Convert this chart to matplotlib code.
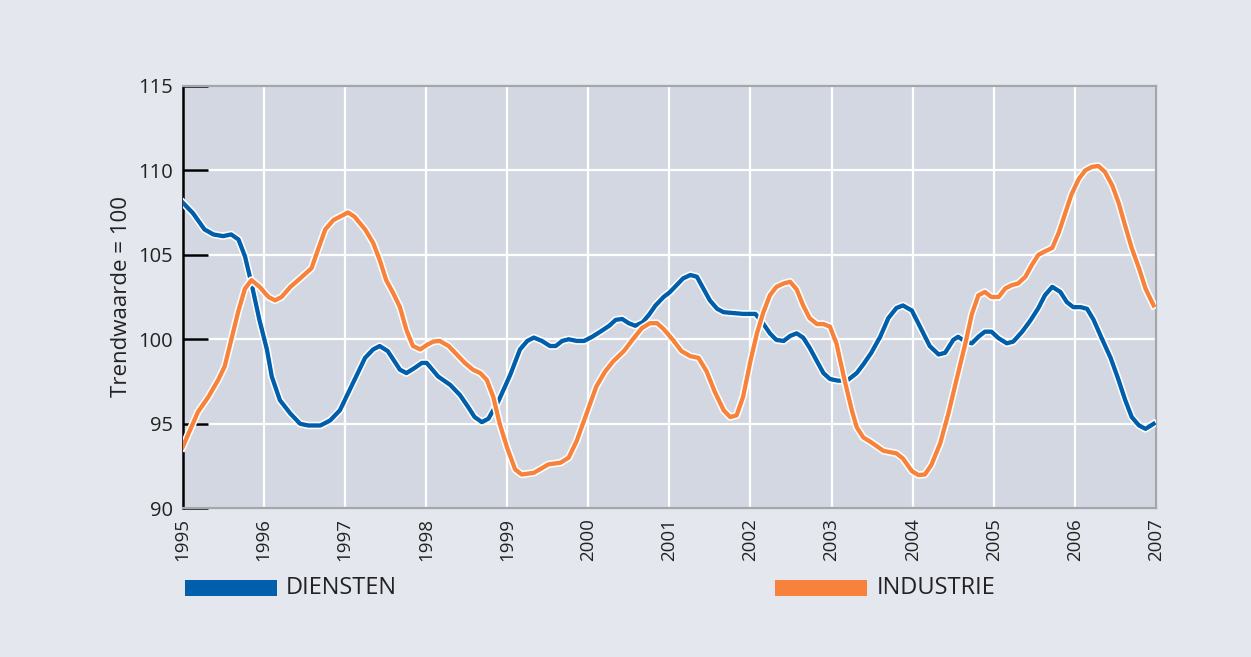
import matplotlib
matplotlib.use("Agg")
import matplotlib.pyplot as plt
import matplotlib.patheffects as pe
from matplotlib.patches import Rectangle

# Waarden (jaar als decimaal, index trendwaarde = 100)
diensten_t = [1995.00, 1995.13, 1995.27, 1995.38, 1995.50, 1995.60, 1995.69, 1995.77, 1995.85, 1995.95,
              1996.04, 1996.10, 1996.20, 1996.33, 1996.45, 1996.55, 1996.70, 1996.82, 1996.94, 1997.08,
              1997.25, 1997.35, 1997.43, 1997.53, 1997.68, 1997.76, 1997.86, 1997.95, 1998.01, 1998.15,
              1998.30, 1998.42, 1998.52, 1998.60, 1998.69, 1998.77, 1998.89, 1999.04, 1999.16, 1999.25,
              1999.33, 1999.43, 1999.53, 1999.60, 1999.68, 1999.76, 1999.86, 1999.95, 2000.05, 2000.15,
              2000.26, 2000.34, 2000.42, 2000.50, 2000.58, 2000.67, 2000.75, 2000.83, 2000.93, 2001.01,
              2001.09, 2001.17, 2001.26, 2001.34, 2001.42, 2001.50, 2001.59, 2001.67, 2001.79, 2001.91,
              2002.06, 2002.14, 2002.24, 2002.32, 2002.41, 2002.49, 2002.57, 2002.65, 2002.73, 2002.82,
              2002.90, 2002.98, 2003.08, 2003.19, 2003.31, 2003.39, 2003.49, 2003.60, 2003.70, 2003.80,
              2003.88, 2003.99, 2004.09, 2004.21, 2004.32, 2004.40, 2004.50, 2004.56, 2004.65, 2004.73,
              2004.81, 2004.89, 2004.97, 2005.06, 2005.16, 2005.24, 2005.35, 2005.45, 2005.55, 2005.63,
              2005.72, 2005.82, 2005.90, 2005.98, 2006.07, 2006.15, 2006.23, 2006.33, 2006.44, 2006.53,
              2006.62, 2006.70, 2006.79, 2006.87, 2006.97]
diensten = [108.1, 107.45, 106.5, 106.2, 106.1, 106.2, 105.9, 104.9, 103.3, 101.1,
            99.4, 97.8, 96.4, 95.6, 95.0, 94.9, 94.9, 95.2, 95.8, 97.2,
            98.9, 99.4, 99.6, 99.3, 98.2, 98.0, 98.3, 98.6, 98.6, 97.8,
            97.3, 96.7, 96.0, 95.4, 95.1, 95.3, 96.3, 97.9, 99.4, 99.9,
            100.1, 99.9, 99.6, 99.6, 99.9, 100.0, 99.9, 99.9, 100.15, 100.45,
            100.8, 101.15, 101.2, 100.95, 100.8, 101.0, 101.45, 102.0, 102.5, 102.8,
            103.2, 103.6, 103.8, 103.7, 103.0, 102.3, 101.8, 101.6, 101.55, 101.5,
            101.5, 101.05, 100.35, 99.96, 99.9, 100.2, 100.35, 100.1, 99.5, 98.7,
            98.0, 97.65, 97.55, 97.55, 98.0, 98.5, 99.2, 100.15, 101.25, 101.85,
            102.0, 101.7, 100.75, 99.6, 99.1, 99.2, 99.96, 100.15, 99.86, 99.76,
            100.15, 100.45, 100.45, 100.06, 99.76, 99.86, 100.45, 101.1, 101.85, 102.6,
            103.1, 102.8, 102.2, 101.9, 101.9, 101.8, 101.15, 100.06, 98.9, 97.7,
            96.4, 95.4, 94.9, 94.7, 95.0]

industrie_t = [1995.00, 1995.09, 1995.19, 1995.32, 1995.44, 1995.52, 1995.60, 1995.69, 1995.77, 1995.85,
               1995.95, 1996.06, 1996.14, 1996.22, 1996.33, 1996.45, 1996.59, 1996.67, 1996.76, 1996.86,
               1996.94, 1997.04, 1997.12, 1997.25, 1997.35, 1997.43, 1997.51, 1997.60, 1997.68, 1997.76,
               1997.84, 1997.93, 1998.01, 1998.09, 1998.17, 1998.28, 1998.38, 1998.48, 1998.58, 1998.67,
               1998.75, 1998.83, 1998.91, 1999.00, 1999.10, 1999.18, 1999.33, 1999.51, 1999.66, 1999.76,
               1999.86, 1999.98, 2000.10, 2000.21, 2000.31, 2000.44, 2000.56, 2000.66, 2000.76, 2000.85,
               2000.93, 2001.03, 2001.15, 2001.26, 2001.36, 2001.46, 2001.56, 2001.67, 2001.75, 2001.83,
               2001.91, 2002.00, 2002.08, 2002.16, 2002.24, 2002.32, 2002.41, 2002.49, 2002.57, 2002.65,
               2002.73, 2002.82, 2002.90, 2002.98, 2003.06, 2003.16, 2003.25, 2003.31, 2003.39, 2003.49,
               2003.64, 2003.80, 2003.88, 2003.99, 2004.07, 2004.15, 2004.23, 2004.34, 2004.44, 2004.54,
               2004.65, 2004.73, 2004.81, 2004.89, 2004.97, 2005.06, 2005.14, 2005.22, 2005.30, 2005.39,
               2005.47, 2005.55, 2005.63, 2005.72, 2005.80, 2005.88, 2005.96, 2006.05, 2006.13, 2006.21,
               2006.29, 2006.37, 2006.46, 2006.54, 2006.62, 2006.70, 2006.79, 2006.87, 2006.97]
industrie = [93.6, 94.6, 95.7, 96.6, 97.6, 98.4, 99.96, 101.7, 103.0, 103.5,
             103.1, 102.5, 102.3, 102.5, 103.1, 103.6, 104.2, 105.3, 106.5, 107.05,
             107.25, 107.5, 107.25, 106.5, 105.7, 104.7, 103.5, 102.7, 101.9, 100.55,
             99.6, 99.4, 99.66, 99.86, 99.9, 99.6, 99.1, 98.6, 98.2, 98.0,
             97.6, 96.6, 95.0, 93.6, 92.3, 92.0, 92.1, 92.6, 92.7, 93.0,
             94.0, 95.6, 97.2, 98.1, 98.7, 99.3, 100.05, 100.65, 100.95, 100.95,
             100.6, 100.05, 99.3, 99.0, 98.9, 98.1, 96.9, 95.8, 95.4, 95.5,
             96.6, 98.7, 100.35, 101.6, 102.6, 103.1, 103.3, 103.4, 102.95, 102.0,
             101.25, 100.9, 100.9, 100.75, 99.76, 97.6, 95.8, 94.8, 94.2, 93.9,
             93.4, 93.25, 92.95, 92.2, 91.97, 92.0, 92.56, 93.85, 95.6, 97.6,
             99.76, 101.5, 102.6, 102.8, 102.5, 102.5, 103.0, 103.2, 103.3, 103.7,
             104.4, 105.0, 105.2, 105.4, 106.3, 107.45, 108.6, 109.5, 110.0, 110.2,
             110.25, 109.9, 109.1, 108.05, 106.7, 105.4, 104.2, 103.0, 102.0]

jaren = list(range(1995, 2008))
y_ticks = [90, 95, 100, 105, 110, 115]

blauw = "#005eaa"
oranje = "#f6823c"
bg = "#e4e7ee"
plot_bg = "#d2d7e1"

plt.rcParams['font.family'] = ['Open Sans', 'DejaVu Sans']

fig = plt.figure(figsize=(12.51, 6.57), dpi=100, facecolor=bg)
ax = fig.add_axes([0.1459, 0.2263, 0.7782, 0.6433])
ax.set_facecolor(plot_bg)

halo = [pe.Stroke(linewidth=5.4, foreground="white"), pe.Normal()]
ax.plot(diensten_t, diensten, color=blauw, lw=3.1, solid_joinstyle="round",
        path_effects=halo, zorder=3)
ax.plot(industrie_t, industrie, color=oranje, lw=3.1, solid_joinstyle="round",
        path_effects=halo, zorder=4)

ax.set_xlim(1995, 2007)
ax.set_ylim(90, 115)
ax.set_xticks(jaren)
ax.set_xticklabels([str(j) for j in jaren], rotation=90, va="top", ha="center",
                   fontsize=13.5, color="#222222")
ax.set_yticks(y_ticks)
ax.set_yticklabels([str(v) for v in y_ticks], fontsize=14.5, color="#222222")
ax.grid(True, color="white", lw=1.6, zorder=1)
ax.set_axisbelow(True)

ax.tick_params(axis="y", direction="in", length=18, width=1.8, color="black", pad=7)
ax.tick_params(axis="x", length=0, pad=7)

for s in ["top", "right", "bottom"]:
    ax.spines[s].set_color("#a3a6ab")
    ax.spines[s].set_linewidth(1.6)
ax.spines["left"].set_color("black")
ax.spines["left"].set_linewidth(1.8)

ax.set_ylabel("Trendwaarde = 100", fontsize=16, color="#222222", labelpad=4)

# legenda onder de grafiek
fig.add_artist(Rectangle((185 / 1251, 1 - 596 / 657), 92 / 1251, 16 / 657,
                         transform=fig.transFigure, color=blauw, lw=0))
fig.text(286 / 1251, 1 - 588 / 657, "DIENSTEN", fontsize=17, va="center",
         ha="left", color="#222222")
fig.add_artist(Rectangle((775 / 1251, 1 - 596 / 657), 92 / 1251, 16 / 657,
                         transform=fig.transFigure, color=oranje, lw=0))
fig.text(877 / 1251, 1 - 588 / 657, "INDUSTRIE", fontsize=17, va="center",
         ha="left", color="#222222")

fig.savefig("out.png", dpi=100, facecolor=bg)
